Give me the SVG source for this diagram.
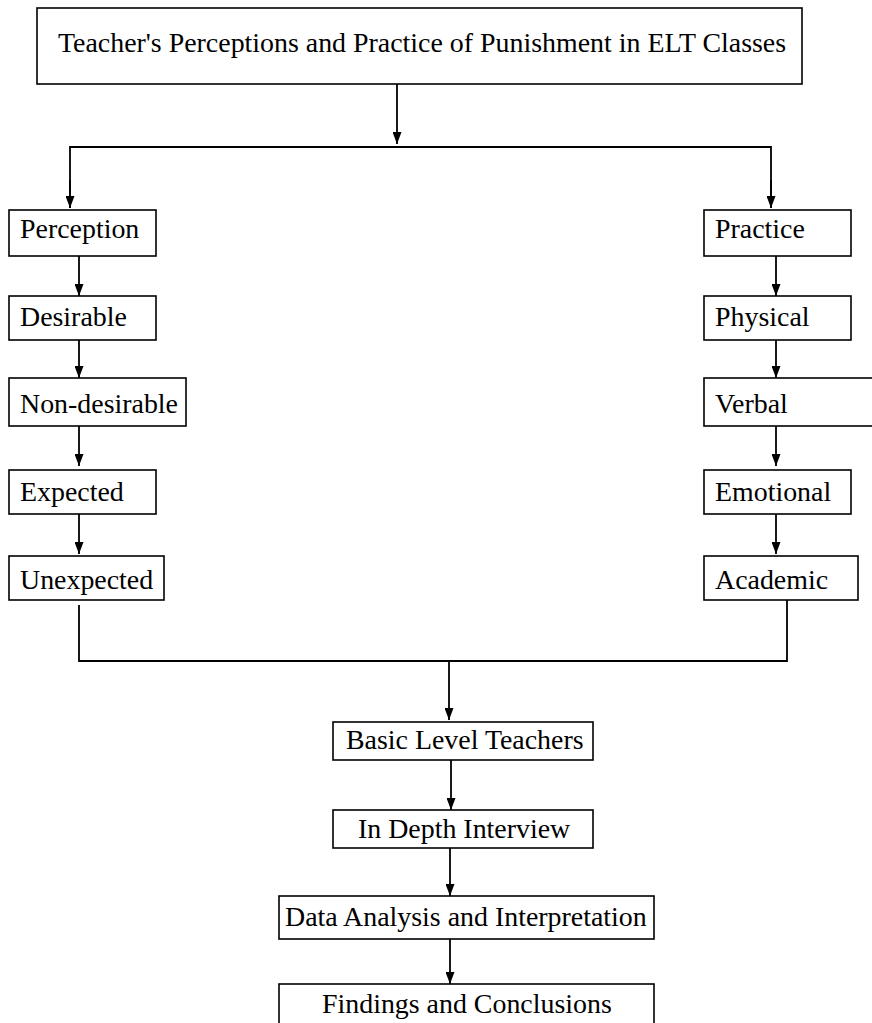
<svg xmlns="http://www.w3.org/2000/svg" width="872" height="1023" viewBox="0 0 872 1023">
<style>
.box{fill:#fff;stroke:#000;stroke-width:1.6}
.t{font-family:"Liberation Serif","Times New Roman",serif;font-size:27.9px;fill:#000}
.c{fill:none;stroke:#000;stroke-width:1.8}
</style>
<defs>
<marker id="ah" viewBox="0 0 12 9" refX="12" refY="4.5" markerWidth="12" markerHeight="9" markerUnits="userSpaceOnUse" orient="auto">
<path d="M0,0 L12,4.5 L0,9 z" fill="#000"/>
</marker>
</defs>
<rect width="872" height="1023" fill="#fff"/>
<g id="connectors">
<line class="c" x1="397" y1="84" x2="397" y2="144" marker-end="url(#ah)"/>
<polyline class="c" points="70,208 70,147 771,147 771,208"/>
<line class="c" x1="70" y1="180" x2="70" y2="208" marker-end="url(#ah)"/>
<line class="c" x1="771" y1="180" x2="771" y2="208" marker-end="url(#ah)"/>
<line class="c" x1="79" y1="256" x2="79" y2="296" marker-end="url(#ah)"/>
<line class="c" x1="79" y1="340" x2="79" y2="378" marker-end="url(#ah)"/>
<line class="c" x1="79" y1="426" x2="79" y2="466" marker-end="url(#ah)"/>
<line class="c" x1="79" y1="514" x2="79" y2="554" marker-end="url(#ah)"/>
<line class="c" x1="776" y1="256" x2="776" y2="296" marker-end="url(#ah)"/>
<line class="c" x1="776" y1="340" x2="776" y2="378" marker-end="url(#ah)"/>
<line class="c" x1="776" y1="426" x2="776" y2="466" marker-end="url(#ah)"/>
<line class="c" x1="776" y1="514" x2="776" y2="554" marker-end="url(#ah)"/>
<polyline class="c" points="79,605 79,661 787,661 787,600"/>
<line class="c" x1="449" y1="661" x2="449" y2="720" marker-end="url(#ah)"/>
<line class="c" x1="451" y1="760" x2="451" y2="810" marker-end="url(#ah)"/>
<line class="c" x1="450" y1="848" x2="450" y2="896" marker-end="url(#ah)"/>
<line class="c" x1="450" y1="939" x2="450" y2="984" marker-end="url(#ah)"/>
</g>
<g id="title"><rect class="box" x="37" y="8" width="765" height="76"/><text class="t" x="58" y="52">Teacher's Perceptions and Practice of Punishment in ELT Classes</text></g>
<g id="perception"><rect class="box" x="9" y="210" width="147" height="46"/><text class="t" x="20" y="238">Perception</text></g>
<g id="desirable"><rect class="box" x="9" y="296" width="147" height="44"/><text class="t" x="20" y="326">Desirable</text></g>
<g id="nondesirable"><rect class="box" x="9" y="378" width="177" height="48"/><text class="t" x="20" y="413">Non-desirable</text></g>
<g id="expected"><rect class="box" x="9" y="470" width="147" height="44"/><text class="t" x="20" y="501">Expected</text></g>
<g id="unexpected"><rect class="box" x="9" y="556" width="155" height="44"/><text class="t" x="20" y="589">Unexpected</text></g>
<g id="practice"><rect class="box" x="704" y="210" width="147" height="46"/><text class="t" x="715" y="238">Practice</text></g>
<g id="physical"><rect class="box" x="704" y="296" width="147" height="44"/><text class="t" x="715" y="326">Physical</text></g>
<g id="verbal"><rect class="box" x="704" y="378" width="180" height="48"/><text class="t" x="715" y="413">Verbal</text></g>
<g id="emotional"><rect class="box" x="704" y="470" width="147" height="44"/><text class="t" x="715" y="501">Emotional</text></g>
<g id="academic"><rect class="box" x="704" y="556" width="154" height="44"/><text class="t" x="715" y="589">Academic</text></g>
<g id="basic"><rect class="box" x="333" y="722" width="260" height="38"/><text class="t" x="346" y="749">Basic Level Teachers</text></g>
<g id="interview"><rect class="box" x="333" y="810" width="260" height="38"/><text class="t" x="358" y="838">In Depth Interview</text></g>
<g id="analysis"><rect class="box" x="279" y="896" width="375" height="43"/><text class="t" x="285" y="926">Data Analysis and Interpretation</text></g>
<g id="findings"><rect class="box" x="279" y="984" width="375" height="50"/><text class="t" x="322" y="1013">Findings and Conclusions</text></g>
</svg>
